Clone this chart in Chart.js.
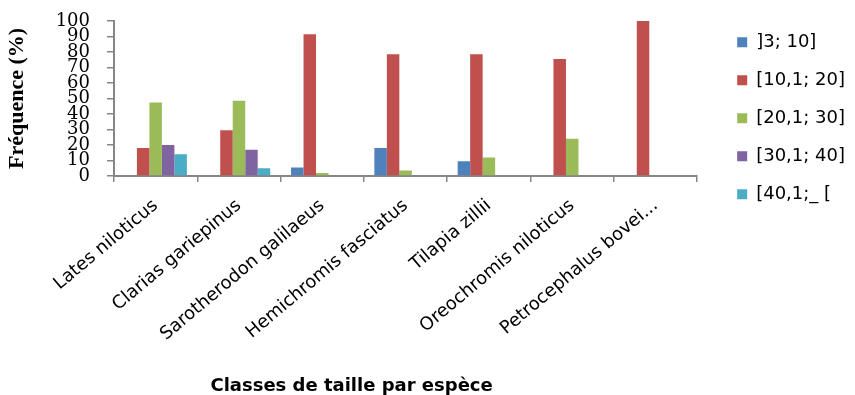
<!DOCTYPE html>
<html>
<head>
<meta charset="utf-8">
<script src="https://cdn.jsdelivr.net/npm/chart.js@4/dist/chart.umd.min.js"></script>
<style>
  html, body { margin: 0; padding: 0; background: #ffffff; }
  #wrap { width: 855px; height: 395px; }
</style>
</head>
<body>
<div id="wrap"><canvas id="chart" width="855" height="395"></canvas></div>
<script>
// Species on the category axis
const species = [
  'Lates niloticus',
  'Clarias gariepinus',
  'Sarotherodon galilaeus',
  'Hemichromis fasciatus',
  'Tilapia zillii',
  'Oreochromis niloticus',
  'Petrocephalus bovei...'
];

// Size classes (cm), one series each
const sizeClasses = [']3; 10]', '[10,1; 20]', '[20,1; 30]', '[30,1; 40]', '[40,1;_ ['];

// Frequency (%) of each size class per species
const class3to10  = [0, 0, 5.5, 18, 9.5, 0, 0];
const class10to20 = [18, 29.5, 91.5, 78.5, 78.5, 75.5, 100];
const class20to30 = [47.5, 48.5, 2, 3.5, 12, 24, 0];
const class30to40 = [20, 17, 0, 0, 0, 0, 0];
const class40plus = [14, 5, 0, 0, 0, 0, 0];

// Frequency axis ticks
const yTicks = [0, 10, 20, 30, 40, 50, 60, 70, 80, 90, 100];

const seriesValues = [class3to10, class10to20, class20to30, class30to40, class40plus];
const seriesColors = ['#4F81BD', '#C0504D', '#9BBB59', '#8064A2', '#4BACC6'];
const axisGrey = '#868686';

// Caption under the category labels, centred on the plot block left of the legend
const xCaption = {
  id: 'xCaption',
  afterDraw(chart) {
    const ctx = chart.ctx;
    ctx.save();
    ctx.font = 'bold 18px "DejaVu Sans"';
    ctx.fillStyle = '#000000';
    ctx.textAlign = 'center';
    ctx.textBaseline = 'alphabetic';
    ctx.fillText('Classes de taille par espèce', chart.scales.x.right / 2 + 3, chart.height - 4);
    ctx.restore();
  }
};

new Chart(document.getElementById('chart'), {
  type: 'bar',
  data: {
    labels: species,
    datasets: sizeClasses.map((name, i) => ({
      label: name,
      data: seriesValues[i],
      backgroundColor: seriesColors[i],
      borderWidth: 0,
      categoryPercentage: 0.75,
      barPercentage: 1.0
    }))
  },
  options: {
    responsive: false,
    animation: false,
    layout: { padding: { top: 0, bottom: 48, left: 0, right: 0 } },
    plugins: {
      tooltip: { enabled: false },
      legend: {
        position: 'right',
        align: 'start',
        title: { display: true, text: '', font: { size: 1 }, padding: 6 },
        labels: {
          boxWidth: 10,
          boxHeight: 10,
          padding: 20,
          color: '#000000',
          font: { family: '"DejaVu Sans"', size: 18 }
        }
      }
    },
    scales: {
      x: {
        grid: {
          drawOnChartArea: false,
          drawTicks: true,
          tickLength: 6,
          color: axisGrey,
          lineWidth: 1.5,
          offset: true
        },
        border: { color: axisGrey, width: 2 },
        ticks: {
          autoSkip: false,
          minRotation: 40,
          maxRotation: 40,
          padding: 13,
          color: '#000000',
          font: { family: '"DejaVu Sans"', size: 18 }
        },
        afterFit(scale) { scale.height = 171; }
      },
      y: {
        min: 0,
        max: 100,
        afterBuildTicks(scale) { scale.ticks = yTicks.map(v => ({ value: v })); },
        grid: {
          drawOnChartArea: false,
          drawTicks: true,
          tickLength: 7,
          color: axisGrey,
          lineWidth: 1.5
        },
        border: { color: axisGrey, width: 2 },
        ticks: {
          autoSkip: false,
          padding: 17,
          color: '#000000',
          font: { family: '"DejaVu Serif"', size: 18, lineHeight: 1 }
        },
        title: {
          display: true,
          text: 'Fréquence (%)',
          color: '#000000',
          padding: { top: 4, bottom: 20 },
          font: { family: '"Liberation Serif"', size: 22, weight: 'bold' }
        },
        afterFit(scale) { scale.width = 114; scale.paddingTop = 21; scale.paddingBottom = 0; }
      },
      // empty spacer between the plot and the legend
      gap: {
        type: 'linear',
        position: 'right',
        display: true,
        grid: { display: false },
        border: { display: false },
        ticks: { display: false },
        afterFit(scale) { scale.width = 20; scale.paddingTop = 0; scale.paddingBottom = 0; }
      }
    }
  },
  plugins: [xCaption]
});
</script>
</body>
</html>
